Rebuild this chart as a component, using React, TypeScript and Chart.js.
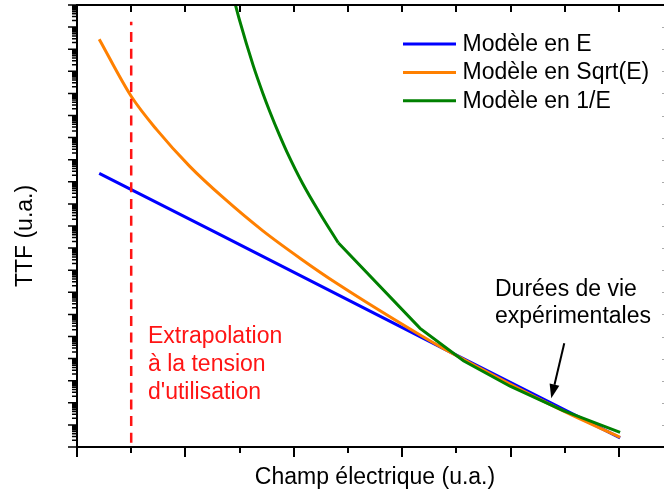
import React, { useEffect, useRef } from "react";
import { Chart, registerables } from "chart.js";

Chart.register(...registerables);

// ---- Data (x: champ électrique, u.a.; y: TTF, u.a., log scale) ----
const blueX = [0.41, 2.63, 6.79, 10.02];
const blueY = [2.4e12, 4.17e9, 2.63e4, 2.57];

const orangeX = [0.41, 1.0, 1.47, 2.08, 2.7, 3.43, 4.14, 4.79, 6.33, 6.79, 8.97, 10.02];
const orangeY = [2.82e18, 7.41e15, 2.29e14, 5.01e12, 1.91e11, 6.03e9, 3.16e8, 2.57e7, 1.17e5, 2.63e4, 42.7, 2.75];

const greenX = [2.85, 3.0, 3.25, 3.43, 3.56, 3.74, 3.87, 4.17, 4.48, 4.82, 6.33, 7.13, 7.99, 8.97, 10.02];
const greenY = [5.01e20, 2.0e19, 1.86e17, 1.0e16, 1.45e15, 1.22e14, 2.34e13, 7.76e11, 3.8e10, 1.74e9, 2.34e5, 7.94e3, 562, 44.7, 4.57];
const greenSmoothUpTo = 9; // index of the last point of the smooth (curved) part

const seriesNames = ["Modèle en E", "Modèle en Sqrt(E)", "Modèle en 1/E"];
const seriesColors = ["#0000ff", "#ff8000", "#008000"];

const extrapX = [1, 1];
const extrapY = [1.55, 1.75e19];

const xTickValues = [0, 1, 2, 3, 4, 5, 6, 7, 8, 9, 10];
const xMajorTicks = [0, 2, 4, 6, 8, 10];
const yMin = 1;
const yMax = 1e20;
const X_MAX = 10.83;

const xTitle = "Champ électrique (u.a.)";
const yTitle = "TTF (u.a.)";
const extrapText = ["Extrapolation", "à la tension", "d'utilisation"];
const expText = ["Durées de vie", "expérimentales"];
const arrowFrom = { x: 8.99, y: 5.0e4 };
const arrowTo = { x: 8.75, y: 1.6e2 };

const FONT = '23px "Liberation Sans", Arial, sans-serif';

const toPts = (xs: number[], ys: number[]) => xs.map((x, i) => ({ x, y: ys[i] }));

const axesPlugin = {
  id: "customAxes",
  afterDatasetsDraw(chart: any) {
    const { ctx, chartArea, scales } = chart;
    const xs = scales.x;
    const ys = scales.y;
    const L = chartArea.left, R = chartArea.right, T = chartArea.top, B = chartArea.bottom;
    ctx.save();
    ctx.strokeStyle = "#000";
    ctx.lineWidth = 2;
    ctx.lineCap = "butt";
    // spines
    ctx.beginPath();
    ctx.moveTo(L, T - 1);
    ctx.lineTo(L, B + 1);
    ctx.moveTo(L - 1, B);
    ctx.lineTo(R, B);
    ctx.moveTo(L - 1, T);
    ctx.lineTo(R, T);
    ctx.stroke();

    // x ticks bottom (outward) and top (inward)
    ctx.lineWidth = 2;
    ctx.beginPath();
    for (const v of xTickValues) {
      const px = Math.round(xs.getPixelForValue(v));
      const major = xMajorTicks.includes(v);
      ctx.moveTo(px, B);
      ctx.lineTo(px, B + (major ? 10 : 6));
      if (v > 0) {
        ctx.moveTo(px, T);
        ctx.lineTo(px, T + 7);
      }
    }
    ctx.stroke();

    // y ticks left (outward)
    const lo = Math.round(Math.log10(yMin));
    const hi = Math.round(Math.log10(yMax));
    ctx.lineWidth = 1.5;
    ctx.beginPath();
    for (let e = lo; e <= hi; e++) {
      const py = ys.getPixelForValue(Math.pow(10, e));
      ctx.moveTo(L, py);
      ctx.lineTo(L - 9, py);
      if (e < hi) {
        for (let m = 2; m <= 9; m++) {
          const pm = ys.getPixelForValue(m * Math.pow(10, e));
          ctx.moveTo(L, pm);
          ctx.lineTo(L - 5, pm);
        }
      }
    }
    ctx.stroke();

    // right ticks (inward, near the clipped right edge)
    ctx.strokeStyle = "#aaa";
    ctx.lineWidth = 1;
    ctx.beginPath();
    for (let e = lo + 1; e < hi; e++) {
      const py = Math.round(ys.getPixelForValue(Math.pow(10, e))) + 0.5;
      ctx.moveTo(R - 2, py);
      ctx.lineTo(R, py);
    }
    ctx.stroke();

    // axis titles
    ctx.fillStyle = "#000";
    ctx.font = FONT;
    ctx.textAlign = "center";
    ctx.textBaseline = "alphabetic";
    ctx.fillText(xTitle, 375, 484);
    ctx.save();
    ctx.translate(31.5, 236);
    ctx.rotate(-Math.PI / 2);
    ctx.fillText(yTitle, 0, 0);
    ctx.restore();

    // legend
    ctx.textAlign = "left";
    seriesNames.forEach((name, i) => {
      const y = 44 + i * 28.4;
      ctx.strokeStyle = seriesColors[i];
      ctx.lineWidth = 3;
      ctx.beginPath();
      ctx.moveTo(403, y);
      ctx.lineTo(456, y);
      ctx.stroke();
      ctx.fillStyle = "#000";
      ctx.fillText(name, 462.5, y + 7);
    });

    // annotations
    ctx.fillStyle = "#ff1414";
    extrapText.forEach((t, i) => ctx.fillText(t, 148, 343.3 + i * 27.9));
    ctx.fillStyle = "#000";
    expText.forEach((t, i) => ctx.fillText(t, 495, 296 + i * 26.7));

    // arrow
    const ax0 = xs.getPixelForValue(arrowFrom.x);
    const ay0 = ys.getPixelForValue(arrowFrom.y);
    const ax1 = xs.getPixelForValue(arrowTo.x);
    const ay1 = ys.getPixelForValue(arrowTo.y);
    const ang = Math.atan2(ay1 - ay0, ax1 - ax0);
    const hl = 14, hw = 5;
    const bx = ax1 - hl * Math.cos(ang);
    const by = ay1 - hl * Math.sin(ang);
    ctx.strokeStyle = "#000";
    ctx.lineWidth = 2;
    ctx.beginPath();
    ctx.moveTo(ax0, ay0);
    ctx.lineTo(bx, by);
    ctx.stroke();
    ctx.beginPath();
    ctx.moveTo(ax1, ay1);
    ctx.lineTo(bx + hw * Math.sin(ang), by - hw * Math.cos(ang));
    ctx.lineTo(bx - hw * Math.sin(ang), by + hw * Math.cos(ang));
    ctx.closePath();
    ctx.fillStyle = "#000";
    ctx.fill();
    ctx.restore();
  },
};

export default function App() {
  const ref = useRef<HTMLCanvasElement | null>(null);
  useEffect(() => {
    if (!ref.current) return;
    const greenPts = toPts(greenX, greenY);
    const chart = new Chart(ref.current, {
      type: "line",
      data: {
        datasets: [
          {
            label: seriesNames[0],
            data: toPts(blueX, blueY),
            borderColor: seriesColors[0],
            borderWidth: 3,
            pointRadius: 0,
            tension: 0,
            order: 4,
          },
          {
            label: seriesNames[1],
            data: toPts(orangeX, orangeY),
            borderColor: seriesColors[1],
            borderWidth: 3,
            pointRadius: 0,
            cubicInterpolationMode: "monotone",
            order: 3,
          },
          {
            label: seriesNames[2],
            data: greenPts.slice(0, greenSmoothUpTo + 1),
            borderColor: seriesColors[2],
            borderWidth: 3,
            pointRadius: 0,
            cubicInterpolationMode: "monotone",
            order: 2,
          },
          {
            label: seriesNames[2] + " (suite)",
            data: greenPts.slice(greenSmoothUpTo),
            borderColor: seriesColors[2],
            borderWidth: 3,
            pointRadius: 0,
            tension: 0,
            order: 1,
          },
          {
            label: "extrapolation",
            data: toPts(extrapX, extrapY),
            borderColor: "#ff1414",
            borderWidth: 2.5,
            borderDash: [10, 6.7],
            pointRadius: 0,
            order: 0,
          },
        ],
      },
      options: {
        animation: false,
        responsive: false,
        parsing: false as any,
        layout: { padding: { left: 77, top: 5, right: 0, bottom: 51 } },
        scales: {
          x: { type: "linear", min: 0, max: X_MAX, display: false },
          y: { type: "logarithmic", min: yMin, max: yMax, display: false },
        },
        plugins: { legend: { display: false }, tooltip: { enabled: false } },
      },
      plugins: [axesPlugin],
    });
    return () => chart.destroy();
  }, []);
  return (
    <div style={{ position: "absolute", left: 0, top: 0, width: 664, height: 498, background: "#fff" }}>
      <canvas ref={ref} width={664} height={498} style={{ width: 664, height: 498 }} />
    </div>
  );
}
